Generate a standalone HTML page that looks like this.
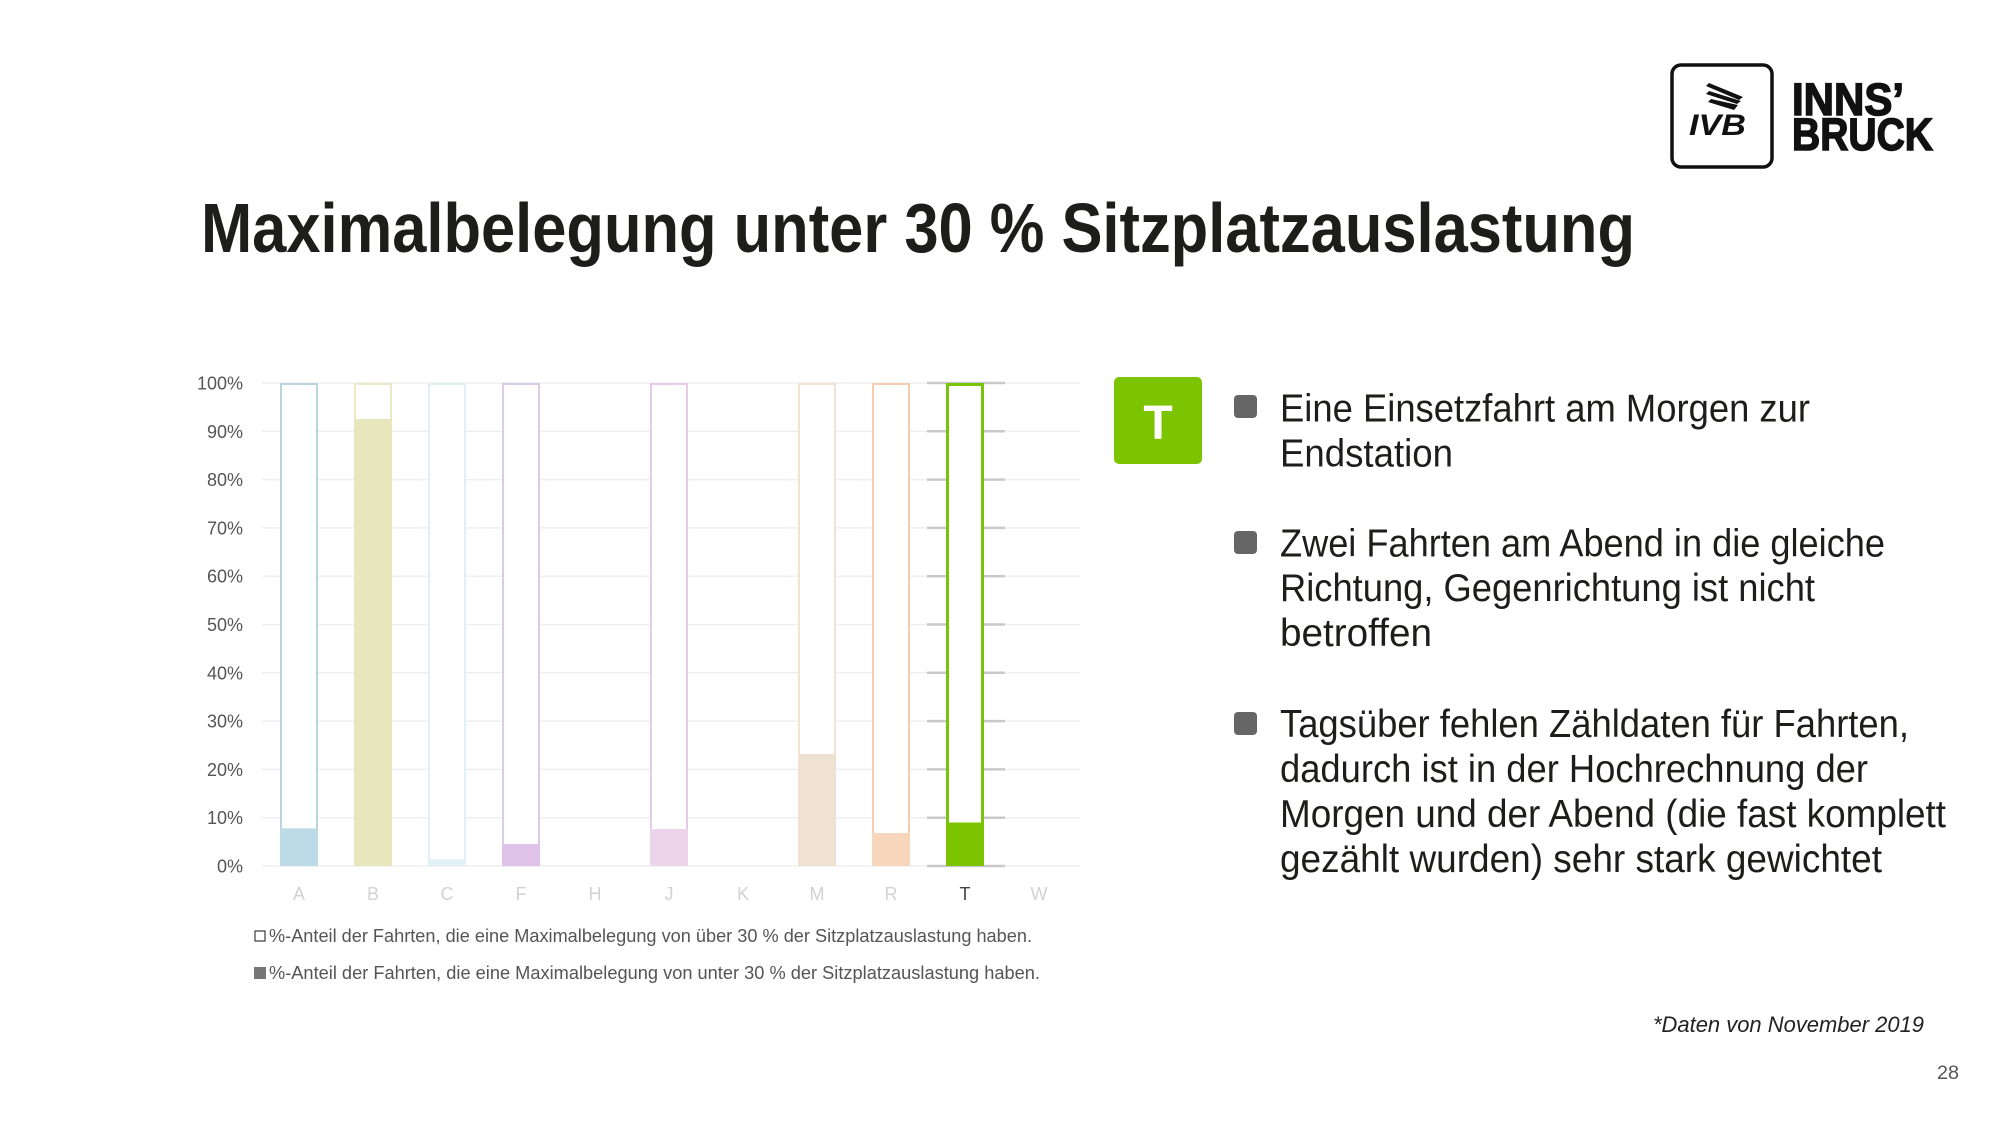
<!DOCTYPE html>
<html>
<head>
<meta charset="utf-8">
<style>
  html,body{margin:0;padding:0;background:#fff;}
  svg{display:block;}
  text{font-family:"Liberation Sans", sans-serif;}
</style>
</head>
<body>
<svg width="2000" height="1125" viewBox="0 0 2000 1125" xmlns="http://www.w3.org/2000/svg">
  <rect width="2000" height="1125" fill="#fff"/>

  <!-- Title -->
  <text x="201" y="252" font-size="70" font-weight="bold" fill="#1d1d1b" textLength="1434" lengthAdjust="spacingAndGlyphs">Maximalbelegung unter 30 % Sitzplatzauslastung</text>

  <!-- Logo -->
  <rect x="1672" y="65" width="100" height="102" rx="9" ry="9" fill="none" stroke="#111" stroke-width="3.5"/>
  <polygon points="1706,86 1709,83 1743,97 1739,100" fill="#111"/>
  <polygon points="1706,94 1709,91 1741,101 1737,104" fill="#111"/>
  <polygon points="1708,102 1711,99 1738,105 1734,110" fill="#111"/>
  <text x="1689" y="135" font-size="30" font-weight="bold" font-style="italic" fill="#111" textLength="57" lengthAdjust="spacingAndGlyphs">IVB</text>
  <text x="1792" y="115" font-size="45" font-weight="bold" fill="#111" stroke="#111" stroke-width="1.5" textLength="112" lengthAdjust="spacingAndGlyphs">INNS’</text>
  <text x="1792" y="150" font-size="45" font-weight="bold" fill="#111" stroke="#111" stroke-width="1.5" textLength="141" lengthAdjust="spacingAndGlyphs">BRUCK</text>

  <!-- Gridlines -->
  <g stroke="#efefef" stroke-width="1.5">
    <line x1="262" y1="866" x2="1080" y2="866"/>
    <line x1="262" y1="817.7" x2="1080" y2="817.7"/>
    <line x1="262" y1="769.4" x2="1080" y2="769.4"/>
    <line x1="262" y1="721.1" x2="1080" y2="721.1"/>
    <line x1="262" y1="672.8" x2="1080" y2="672.8"/>
    <line x1="262" y1="624.5" x2="1080" y2="624.5"/>
    <line x1="262" y1="576.2" x2="1080" y2="576.2"/>
    <line x1="262" y1="527.9" x2="1080" y2="527.9"/>
    <line x1="262" y1="479.6" x2="1080" y2="479.6"/>
    <line x1="262" y1="431.3" x2="1080" y2="431.3"/>
    <line x1="262" y1="383" x2="1080" y2="383"/>
  </g>
  <!-- Highlighted T band ticks -->
  <g stroke="#c9c9c9" stroke-width="2.5">
    <line x1="927" y1="866" x2="1005" y2="866"/>
    <line x1="927" y1="817.7" x2="1005" y2="817.7"/>
    <line x1="927" y1="769.4" x2="1005" y2="769.4"/>
    <line x1="927" y1="721.1" x2="1005" y2="721.1"/>
    <line x1="927" y1="672.8" x2="1005" y2="672.8"/>
    <line x1="927" y1="624.5" x2="1005" y2="624.5"/>
    <line x1="927" y1="576.2" x2="1005" y2="576.2"/>
    <line x1="927" y1="527.9" x2="1005" y2="527.9"/>
    <line x1="927" y1="479.6" x2="1005" y2="479.6"/>
    <line x1="927" y1="431.3" x2="1005" y2="431.3"/>
    <line x1="927" y1="383" x2="1005" y2="383"/>
  </g>

  <!-- Y labels -->
  <g font-size="18" fill="#555" text-anchor="end">
    <text x="243" y="872.5">0%</text>
    <text x="243" y="824.2">10%</text>
    <text x="243" y="775.9">20%</text>
    <text x="243" y="727.6">30%</text>
    <text x="243" y="679.3">40%</text>
    <text x="243" y="631">50%</text>
    <text x="243" y="582.7">60%</text>
    <text x="243" y="534.4">70%</text>
    <text x="243" y="486.1">80%</text>
    <text x="243" y="437.8">90%</text>
    <text x="243" y="389.5">100%</text>
  </g>

  <!-- Bars: center = 299 + 74*i -->
  <rect x="281" y="384" width="36" height="481" fill="#fff" stroke="#b8d4df" stroke-width="2"/>
  <rect x="280" y="828.3" width="38" height="37.7" fill="#bddbe7"/>
  <rect x="355" y="384" width="36" height="481" fill="#fff" stroke="#ede9c6" stroke-width="2"/>
  <rect x="354" y="419" width="38" height="447" fill="#e8e6bd"/>
  <rect x="429" y="384" width="36" height="481" fill="#fff" stroke="#e1f0f4" stroke-width="2"/>
  <rect x="428" y="859.3" width="38" height="6.7" fill="#e2f1f6"/>
  <rect x="503" y="384" width="36" height="481" fill="#fff" stroke="#dccbe7" stroke-width="2"/>
  <rect x="502" y="844" width="38" height="22" fill="#dfc2e7"/>
  <rect x="651" y="384" width="36" height="481" fill="#fff" stroke="#e8cbe6" stroke-width="2"/>
  <rect x="650" y="829" width="38" height="37" fill="#ecd5eb"/>
  <rect x="799" y="384" width="36" height="481" fill="#fff" stroke="#f3e3d2" stroke-width="2"/>
  <rect x="798" y="754" width="38" height="112" fill="#efe2d3"/>
  <rect x="873" y="384" width="36" height="481" fill="#fff" stroke="#f5cdb0" stroke-width="2"/>
  <rect x="872" y="833" width="38" height="33" fill="#f8d6bc"/>
  <rect x="947.5" y="384.5" width="35" height="480" fill="#fff" stroke="#78c40a" stroke-width="3"/>
  <rect x="946" y="822.5" width="38" height="43.5" fill="#7dc400"/>

  <!-- Category labels -->
  <g font-size="18" fill="#d2d2d2" text-anchor="middle">
    <text x="299" y="900">A</text>
    <text x="373" y="900">B</text>
    <text x="447" y="900">C</text>
    <text x="521" y="900">F</text>
    <text x="595" y="900">H</text>
    <text x="669" y="900">J</text>
    <text x="743" y="900">K</text>
    <text x="817" y="900">M</text>
    <text x="891" y="900">R</text>
    <text x="965" y="900" fill="#444">T</text>
    <text x="1039" y="900">W</text>
  </g>

  <!-- Legend -->
  <rect x="255" y="931" width="10" height="10" fill="#fff" stroke="#555" stroke-width="1.4"/>
  <text x="269" y="942" font-size="18" fill="#555" textLength="763" lengthAdjust="spacingAndGlyphs">%-Anteil der Fahrten, die eine Maximalbelegung von über 30 % der Sitzplatzauslastung haben.</text>
  <rect x="254" y="967" width="12" height="12" fill="#777"/>
  <text x="269" y="979" font-size="18" fill="#555" textLength="771" lengthAdjust="spacingAndGlyphs">%-Anteil der Fahrten, die eine Maximalbelegung von unter 30 % der Sitzplatzauslastung haben.</text>

  <!-- Green T box -->
  <rect x="1114" y="377" width="88" height="87" rx="5" ry="5" fill="#7dc400"/>
  <text x="1158" y="439" font-size="48" font-weight="bold" fill="#fff" text-anchor="middle">T</text>

  <!-- Bullets -->
  <rect x="1234" y="395" width="23" height="23" rx="4" ry="4" fill="#666"/>
  <rect x="1234" y="531" width="23" height="23" rx="4" ry="4" fill="#666"/>
  <rect x="1234" y="712" width="23" height="23" rx="4" ry="4" fill="#666"/>

  <g font-size="39" fill="#1d1d1b">
    <text x="1280" y="421.6" textLength="530" lengthAdjust="spacingAndGlyphs">Eine Einsetzfahrt am Morgen zur</text>
    <text x="1280" y="466.5" textLength="173" lengthAdjust="spacingAndGlyphs">Endstation</text>
    <text x="1280" y="556.3" textLength="605" lengthAdjust="spacingAndGlyphs">Zwei Fahrten am Abend in die gleiche</text>
    <text x="1280" y="601.1" textLength="535" lengthAdjust="spacingAndGlyphs">Richtung, Gegenrichtung ist nicht</text>
    <text x="1280" y="646" textLength="152" lengthAdjust="spacingAndGlyphs">betroffen</text>
    <text x="1280" y="737" textLength="629" lengthAdjust="spacingAndGlyphs">Tagsüber fehlen Zähldaten für Fahrten,</text>
    <text x="1280" y="782" textLength="588" lengthAdjust="spacingAndGlyphs">dadurch ist in der Hochrechnung der</text>
    <text x="1280" y="827" textLength="666" lengthAdjust="spacingAndGlyphs">Morgen und der Abend (die fast komplett</text>
    <text x="1280" y="872" textLength="602" lengthAdjust="spacingAndGlyphs">gezählt wurden) sehr stark gewichtet</text>
  </g>

  <!-- Footnote -->
  <text x="1653" y="1032" font-size="22" font-style="italic" fill="#222" textLength="271" lengthAdjust="spacingAndGlyphs">*Daten von November 2019</text>
  <text x="1937" y="1079" font-size="19" fill="#555" textLength="22" lengthAdjust="spacingAndGlyphs">28</text>
</svg>
</body>
</html>
